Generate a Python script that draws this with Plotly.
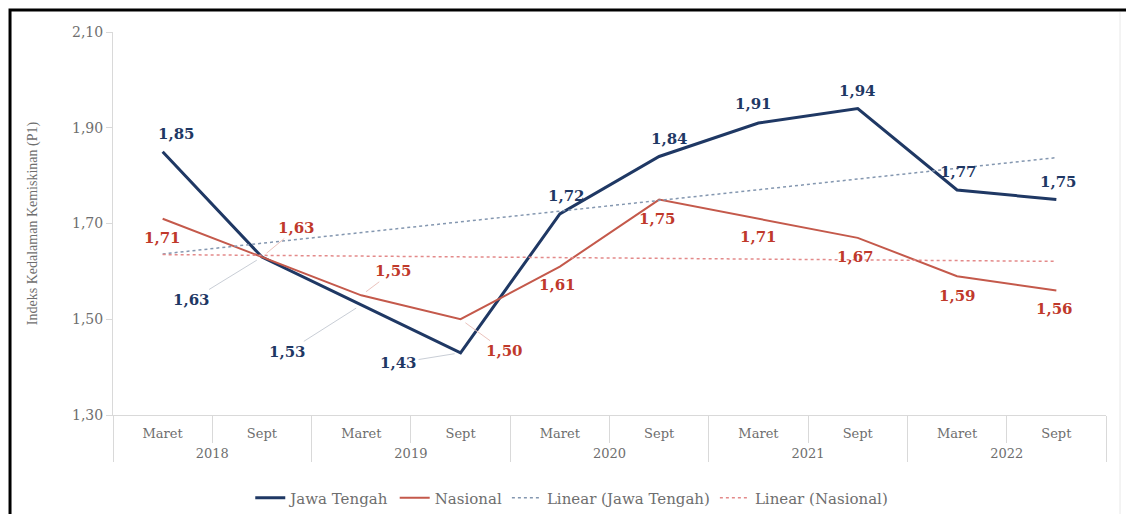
import numpy as np
import plotly.graph_objects as go

# --- data -------------------------------------------------------------------
years = ["2018", "2018", "2019", "2019", "2020", "2020", "2021", "2021", "2022", "2022"]
periods = ["Maret", "Sept", "Maret", "Sept", "Maret", "Sept", "Maret", "Sept", "Maret", "Sept"]
jawa_tengah = [1.85, 1.63, 1.53, 1.43, 1.72, 1.84, 1.91, 1.94, 1.77, 1.75]
nasional = [1.71, 1.63, 1.55, 1.50, 1.61, 1.75, 1.71, 1.67, 1.59, 1.56]
y_ticks = [1.30, 1.50, 1.70, 1.90, 2.10]

# --- styling ----------------------------------------------------------------
NAVY = "#1F3864"
RED_LINE = "#C4594B"
RED_TEXT = "#C0392B"
TREND_JT = "#8497B0"
TREND_NAS = "#E38A8A"
GREY_TXT = "#6E6E6E"
AXIS_GREY = "#D9D9D9"
SERIF = "DejaVu Serif, serif"
TITLE_FONT = "Liberation Serif, serif"

# label offsets in pixels (dx, dy) from each point, and whether a leader line is drawn
jt_label_pos = [(14, -18, False), (-70, 43, True), (-74, 47, True), (-62, 10, True),
                (7, -18, False), (10, -17, False), (-5, -19, False), (0, -18, False),
                (1, -18, False), (2, -18, False)]
nas_label_pos = [(0, 19, False), (35, -29, True), (32, -24, True), (44, 32, True),
                 (-2, 18, False), (-2, 19, False), (0, 18, False), (-2, 19, False),
                 (0, 20, False), (-2, 18, False)]

# category positions along the x axis; each year spans a Maret/Sept pair
pos = np.arange(len(periods))
year_names = list(dict.fromkeys(years))
year_centers = [float(np.mean(pos[np.array(years) == y])) for y in year_names]
period_bounds = [p + 0.5 for p in pos[:-1] if years[p] == years[p + 1]]
year_bounds = [-0.5] + [p + 0.5 for p in pos[:-1] if years[p] != years[p + 1]] + [pos[-1] + 0.5]


def linear_trend(values):
    coef = np.polyfit(pos + 1, values, 1)
    return np.polyval(coef, pos + 1)


def fmt(v):
    return f"{v:.2f}".replace(".", ",")


fig = go.Figure()

fig.add_trace(go.Scatter(x=pos, y=jawa_tengah, mode="lines", name="Jawa Tengah",
                         line=dict(color=NAVY, width=3)))
fig.add_trace(go.Scatter(x=pos, y=nasional, mode="lines", name="Nasional",
                         line=dict(color=RED_LINE, width=2)))
fig.add_trace(go.Scatter(x=pos, y=linear_trend(jawa_tengah), mode="lines",
                         name="Linear (Jawa Tengah)", xaxis="x2",
                         line=dict(color=TREND_JT, width=1.5, dash="dot")))
fig.add_trace(go.Scatter(x=pos, y=linear_trend(nasional), mode="lines",
                         name="Linear (Nasional)", xaxis="x2",
                         line=dict(color=TREND_NAS, width=1.5, dash="dot")))

annotations = []
for values, positions, color, leader_color in (
        (jawa_tengah, jt_label_pos, NAVY, "#C9CED6"),
        (nasional, nas_label_pos, RED_TEXT, "#EBC3BD")):
    for i, (v, (dx, dy, leader)) in enumerate(zip(values, positions)):
        ann = dict(x=pos[i], y=v, xref="x", yref="y", text=fmt(v),
                   font=dict(family=SERIF, size=15, color=color, weight="bold"))
        if leader:
            ann.update(showarrow=True, ax=dx, ay=dy, arrowhead=0, arrowwidth=1,
                       arrowcolor=leader_color, standoff=6)
        else:
            ann.update(showarrow=False, xshift=dx, yshift=-dy)
        annotations.append(ann)

# outer frame around the figure
shapes = [
    dict(type="rect", xref="paper", yref="paper",
         x0=-0.1037, x1=1.03, y0=-0.35, y1=1.0574,
         line=dict(color="black", width=3), layer="below"),
    dict(type="line", xref="paper", yref="paper",
         x0=1.0141, x1=1.0141, y0=-0.3, y1=1.052,
         line=dict(color="#E8E8E8", width=1), layer="below"),
]

x_range = [-0.5, len(periods) - 0.5]

fig.update_layout(
    width=1126, height=514,
    margin=dict(l=113, r=20, t=32, b=99, autoexpand=False),
    paper_bgcolor="white", plot_bgcolor="white",
    separators=",.",
    showlegend=True,
    legend=dict(orientation="h", x=0.462, xanchor="center", y=-0.217, yanchor="middle",
                font=dict(family=SERIF, size=15, color=GREY_TXT)),
    annotations=annotations,
    shapes=shapes,
    # inner level: Maret / Sept
    xaxis=dict(range=x_range, automargin=False,
               tickvals=pos, ticktext=periods, ticks="",
               ticklabelstandoff=6,
               showline=True, linecolor=AXIS_GREY, linewidth=1,
               showgrid=False, zeroline=False,
               tickfont=dict(family=SERIF, size=13, color=GREY_TXT),
               minor=dict(tickmode="array", tickvals=period_bounds, ticks="outside",
                          ticklen=27, tickcolor=AXIS_GREY, showgrid=False)),
    # outer level: years
    xaxis2=dict(overlaying="x", matches="x", anchor="y", side="bottom", automargin=False,
                range=x_range,
                tickvals=year_centers, ticktext=year_names, ticks="",
                ticklabelstandoff=29,
                showline=False, showgrid=False, zeroline=False,
                tickfont=dict(family=SERIF, size=13, color=GREY_TXT),
                minor=dict(tickmode="array", tickvals=year_bounds, ticks="outside",
                           ticklen=46, tickcolor=AXIS_GREY, showgrid=False)),
    yaxis=dict(range=[1.30, 2.10], tickvals=y_ticks, tickformat=".2f", automargin=False,
               showline=True, linecolor=AXIS_GREY, linewidth=1,
               showgrid=False, zeroline=False,
               ticks="outside", ticklen=6, tickcolor=AXIS_GREY,
               tickfont=dict(family=SERIF, size=14, color=GREY_TXT),
               title=dict(text="Indeks Kedalaman Kemiskinan (P1)", standoff=31,
                          font=dict(family=TITLE_FONT, size=14, color=GREY_TXT))),
)

fig.write_html("out.html")
